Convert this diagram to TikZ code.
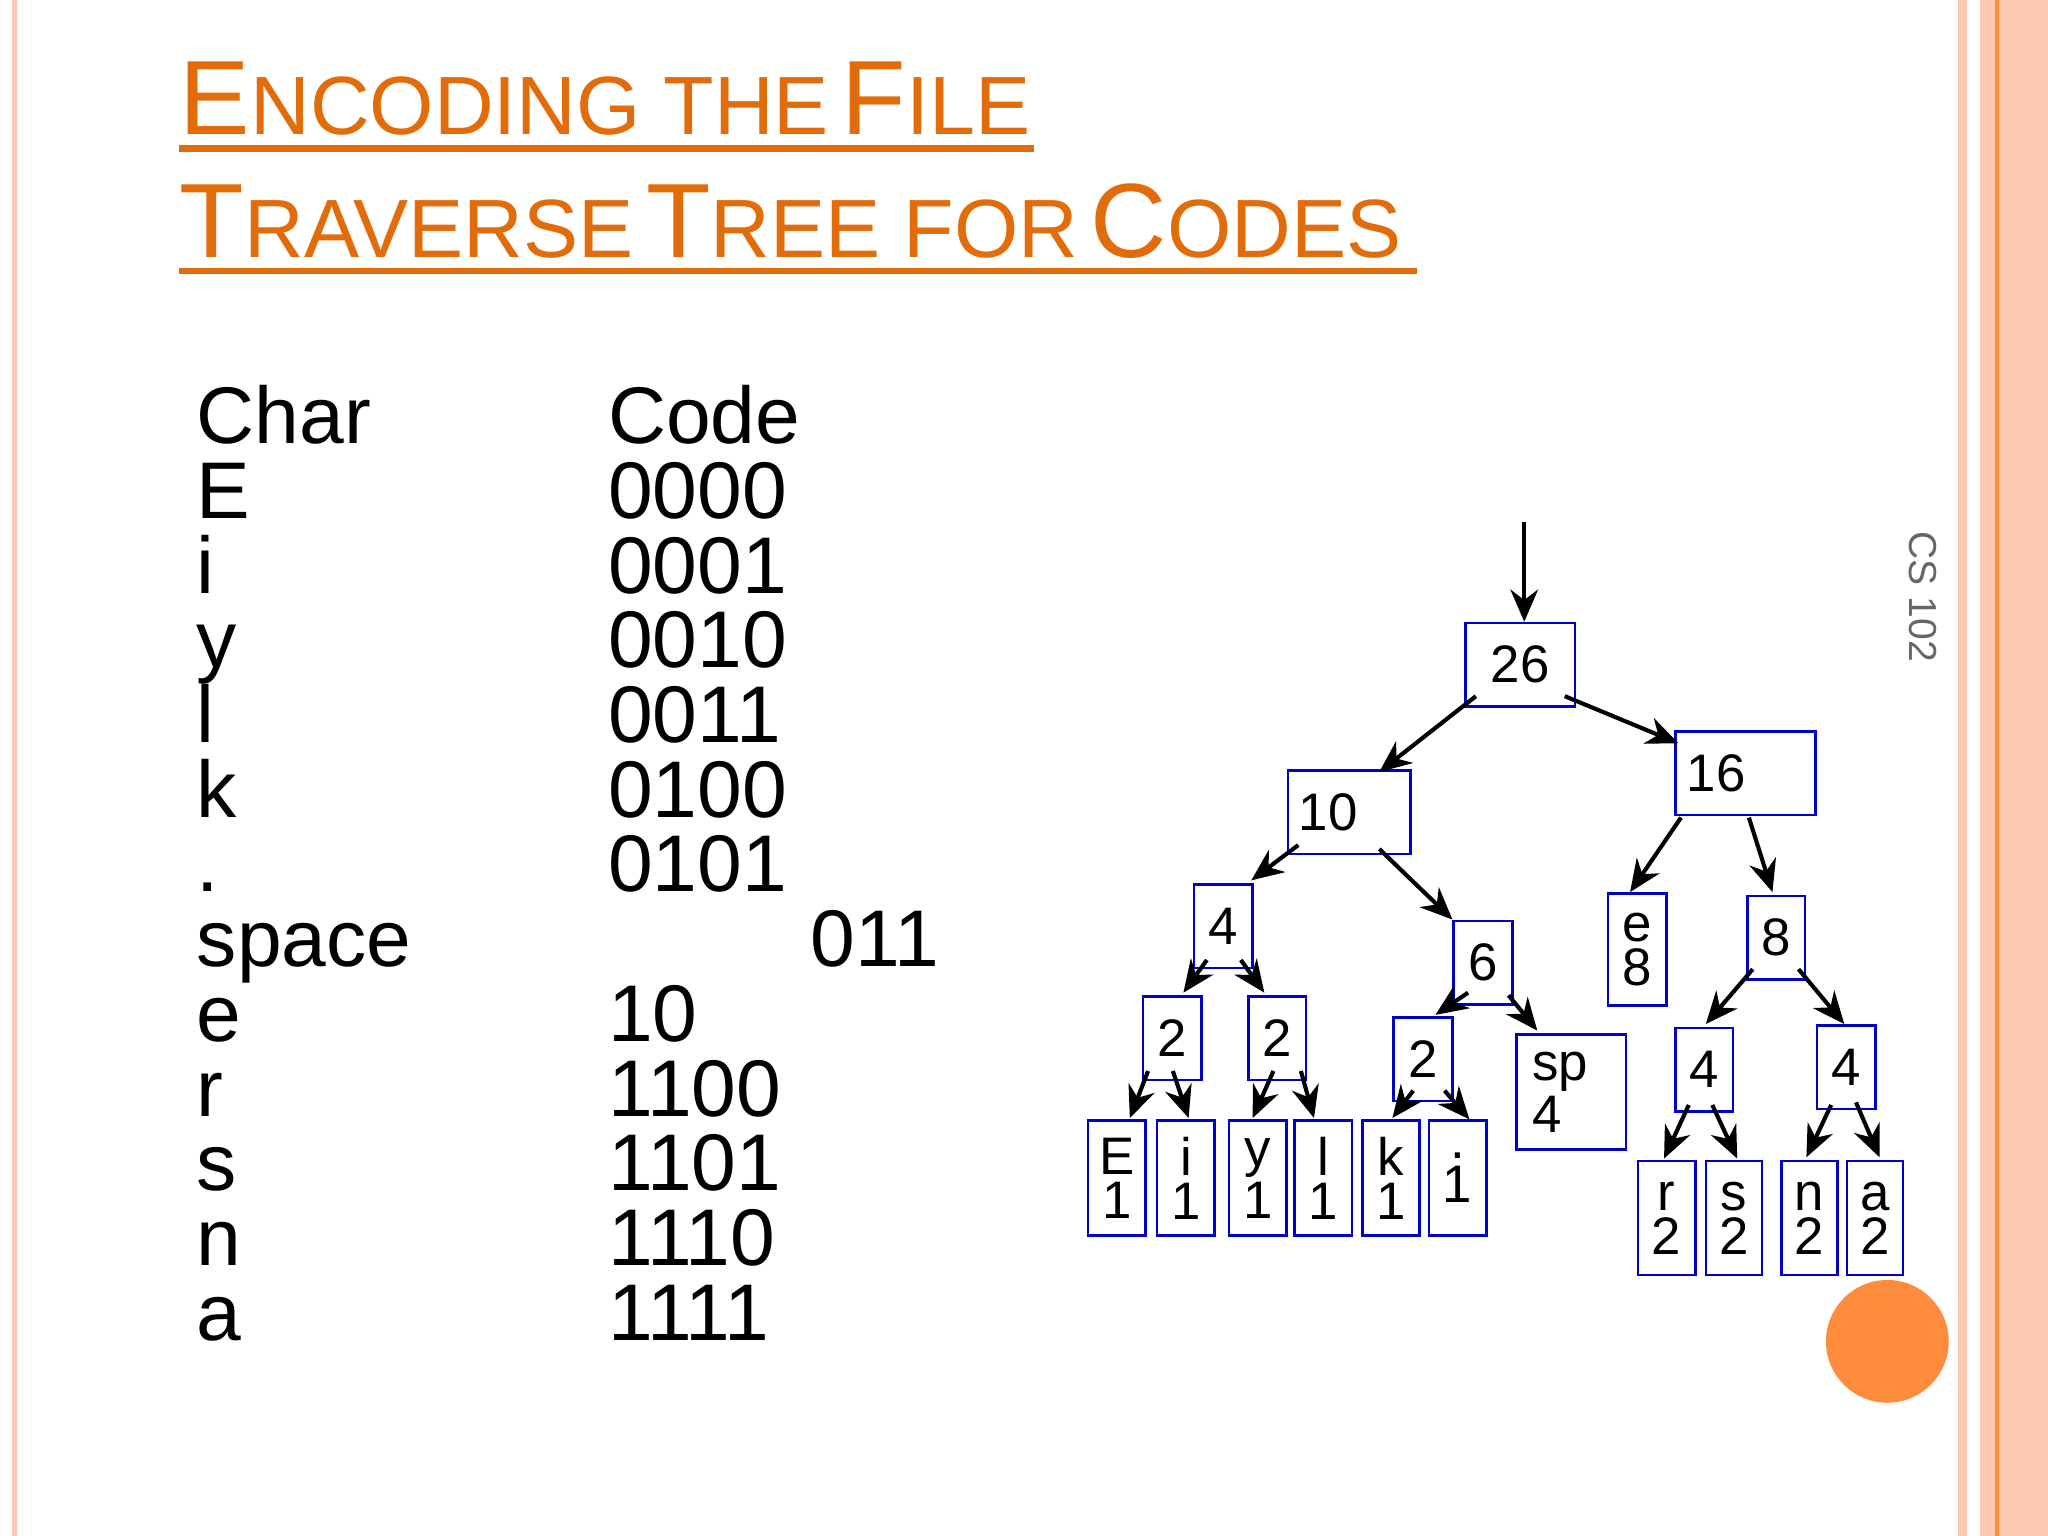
\documentclass[tikz,border=0pt]{standalone}
\usepackage{fontspec}
\setmainfont{Liberation Sans}
\usetikzlibrary{arrows.meta,calc}
\definecolor{ttl}{HTML}{E36C0A}
\definecolor{salm}{HTML}{FCC8B4}
\definecolor{orng}{HTML}{FF8C3C}
\newcommand{\SC}[2]{{\fontsize{23pt}{23pt}\selectfont #1}{\fontsize{18pt}{18pt}\selectfont #2}}
\begin{document}
\begin{tikzpicture}[x=0.01cm,y=-0.01cm,
  bx/.style={draw=blue!80!black,line width=0.55pt,inner sep=0pt,font=\fontsize{11.5pt}{9.6pt}\selectfont,align=center},
  ar/.style={-{Stealth[length=7pt,width=6pt]},line width=0.9pt},
  row/.style={anchor=west,font=\fontsize{17.5pt}{18pt}\selectfont,inner sep=0pt}]
\useasboundingbox (0,0) rectangle (1568,1176);
\fill[white] (0,0) rectangle (1568,1176);
% borders
\fill[salm] (9,0) rectangle (13,1176);
\fill[salm] (1499,0) rectangle (1506,1176);
\fill[salm] (1516,0) rectangle (1568,1176);
\draw[orng,line width=0.8pt] (1529,0) -- (1529,1176);
\fill[orng] (1445,1027) circle (47);
% title
\node[anchor=base west,inner sep=0pt,text=ttl] (t1) at (137,103) {\SC{E}{NCODING THE} \SC{F}{ILE}};
\node[anchor=base west,inner sep=0pt,text=ttl] (t2) at (137,197) {\SC{T}{RAVERSE} \SC{T}{REE FOR} \SC{C}{ODES}};
\fill[ttl] (137,111) rectangle (792,116);
\fill[ttl] (137,205) rectangle (1085,210);
\node[rotate=-90,text=gray!80!black,font=\fontsize{8.5pt}{9pt}\selectfont] (cs) at (1472,457) {CS 102};
% table
\foreach \c/\k [count=\i from 0] in {Char/Code,E/0000,i/0001,y/0010,l/0011,k/0100,./0101,space/,e/10,r/1100,s/1101,n/1110,a/1111}{
  \node[row] (c\i) at (150,{327+57.2*\i}) {\strut\c};
  \node[row] (k\i) at (465,{327+57.2*\i}) {\strut\k};
}
\node[row] (k7b) at (620,{327+57.2*7}) {\strut 011};
% tree
\newcommand{\bnode}[7]{\node[bx,minimum width={(#4-#3)*0.01cm},minimum height={(#6-#5)*0.01cm},#7] (#1) at ({(#3+#4)/2},{(#5+#6)/2}) {#2};}
\bnode{n26}{26}{1122}{1206}{477}{541}{}
\bnode{n16}{16}{1283}{1390}{560}{624}{align=left,text width=0.9cm,inner xsep=0.085cm}
\bnode{n10}{10}{986}{1080}{590}{654}{align=left,text width=0.77cm,inner xsep=0.085cm}
\bnode{n4}{4}{914}{959}{677}{741}{}
\bnode{n6}{6}{1113}{1158}{705}{769}{}
\bnode{ne}{e\\8}{1231}{1276}{684}{770}{}
\bnode{n8}{8}{1338}{1382}{686}{750}{}
\bnode{n2a}{2}{875}{920}{763}{827}{}
\bnode{n2b}{2}{956}{1000}{763}{827}{}
\bnode{n2c}{2}{1067}{1112}{779}{843}{}
\bnode{nsp}{sp\\4}{1161}{1245}{792}{880}{align=left,text width=0.6cm,inner xsep=0.12cm}
\bnode{n4a}{4}{1283}{1327}{787}{851}{}
\bnode{n4b}{4}{1391}{1436}{785}{849}{}
\bnode{lE}{E\\1}{833}{877}{858}{946}{}
\bnode{li}{i\\1}{886}{930}{858}{946}{}
\bnode{ly}{y\\1}{941}{985}{858}{946}{}
\bnode{ll}{l\\1}{991}{1035}{858}{946}{}
\bnode{lk}{k\\1}{1043}{1087}{858}{946}{}
\bnode{ld}{.\\1}{1094}{1138}{858}{946}{}
\bnode{lr}{r\\2}{1254}{1298}{889}{976}{}
\bnode{ls}{s\\2}{1306}{1349}{889}{976}{}
\bnode{ln}{n\\2}{1364}{1407}{889}{976}{}
\bnode{la}{a\\2}{1414}{1457}{889}{976}{}
\coordinate (top) at (1167,400);
\draw[ar] (top) -- (n26.north -| top);
\newcommand{\ed}[6]{\draw[ar] ($(#1.center)+(#2,#3)$) -- ($(#4.north west)+(#5,#6)$);}
\ed{n26}{-34}{24}{n10}{71}{2}
\ed{n26}{34}{24}{n16}{3}{10}
\ed{n10}{-39}{25}{n4}{45}{-2}
\ed{n10}{23}{28}{n6}{0}{0}
\ed{n16}{-49.5}{34}{ne}{18}{0}
\ed{n16}{2.5}{34}{n8}{20}{-2}
\ed{n4}{-12.5}{26}{n2a}{32}{-2}
\ed{n4}{13.5}{26}{n2b}{13}{-2}
\ed{n6}{-11.5}{23}{n2c}{33}{-1}
\ed{n6}{19.5}{25}{nsp}{17}{-2}
\ed{n8}{-18}{24}{n4a}{24}{-2}
\ed{n8}{17}{24}{n4b}{22}{0}
\ed{n2a}{-18.5}{25}{lE}{33}{-1}
\ed{n2a}{0.5}{25}{li}{25}{-1}
\ed{n2b}{-3}{25}{ly}{19}{-1}
\ed{n2b}{18}{25}{ll}{16}{-1}
\ed{n2c}{-7.5}{24}{lk}{24}{-1}
\ed{n2c}{16.5}{24}{ld}{32}{0}
\ed{n4a}{-12}{27}{lr}{21}{-1}
\ed{n4a}{6}{27}{ls}{25}{-1}
\ed{n4b}{-11.5}{29}{ln}{20}{-2}
\ed{n4b}{7.5}{27}{la}{26}{-2}
\end{tikzpicture}
\end{document}
